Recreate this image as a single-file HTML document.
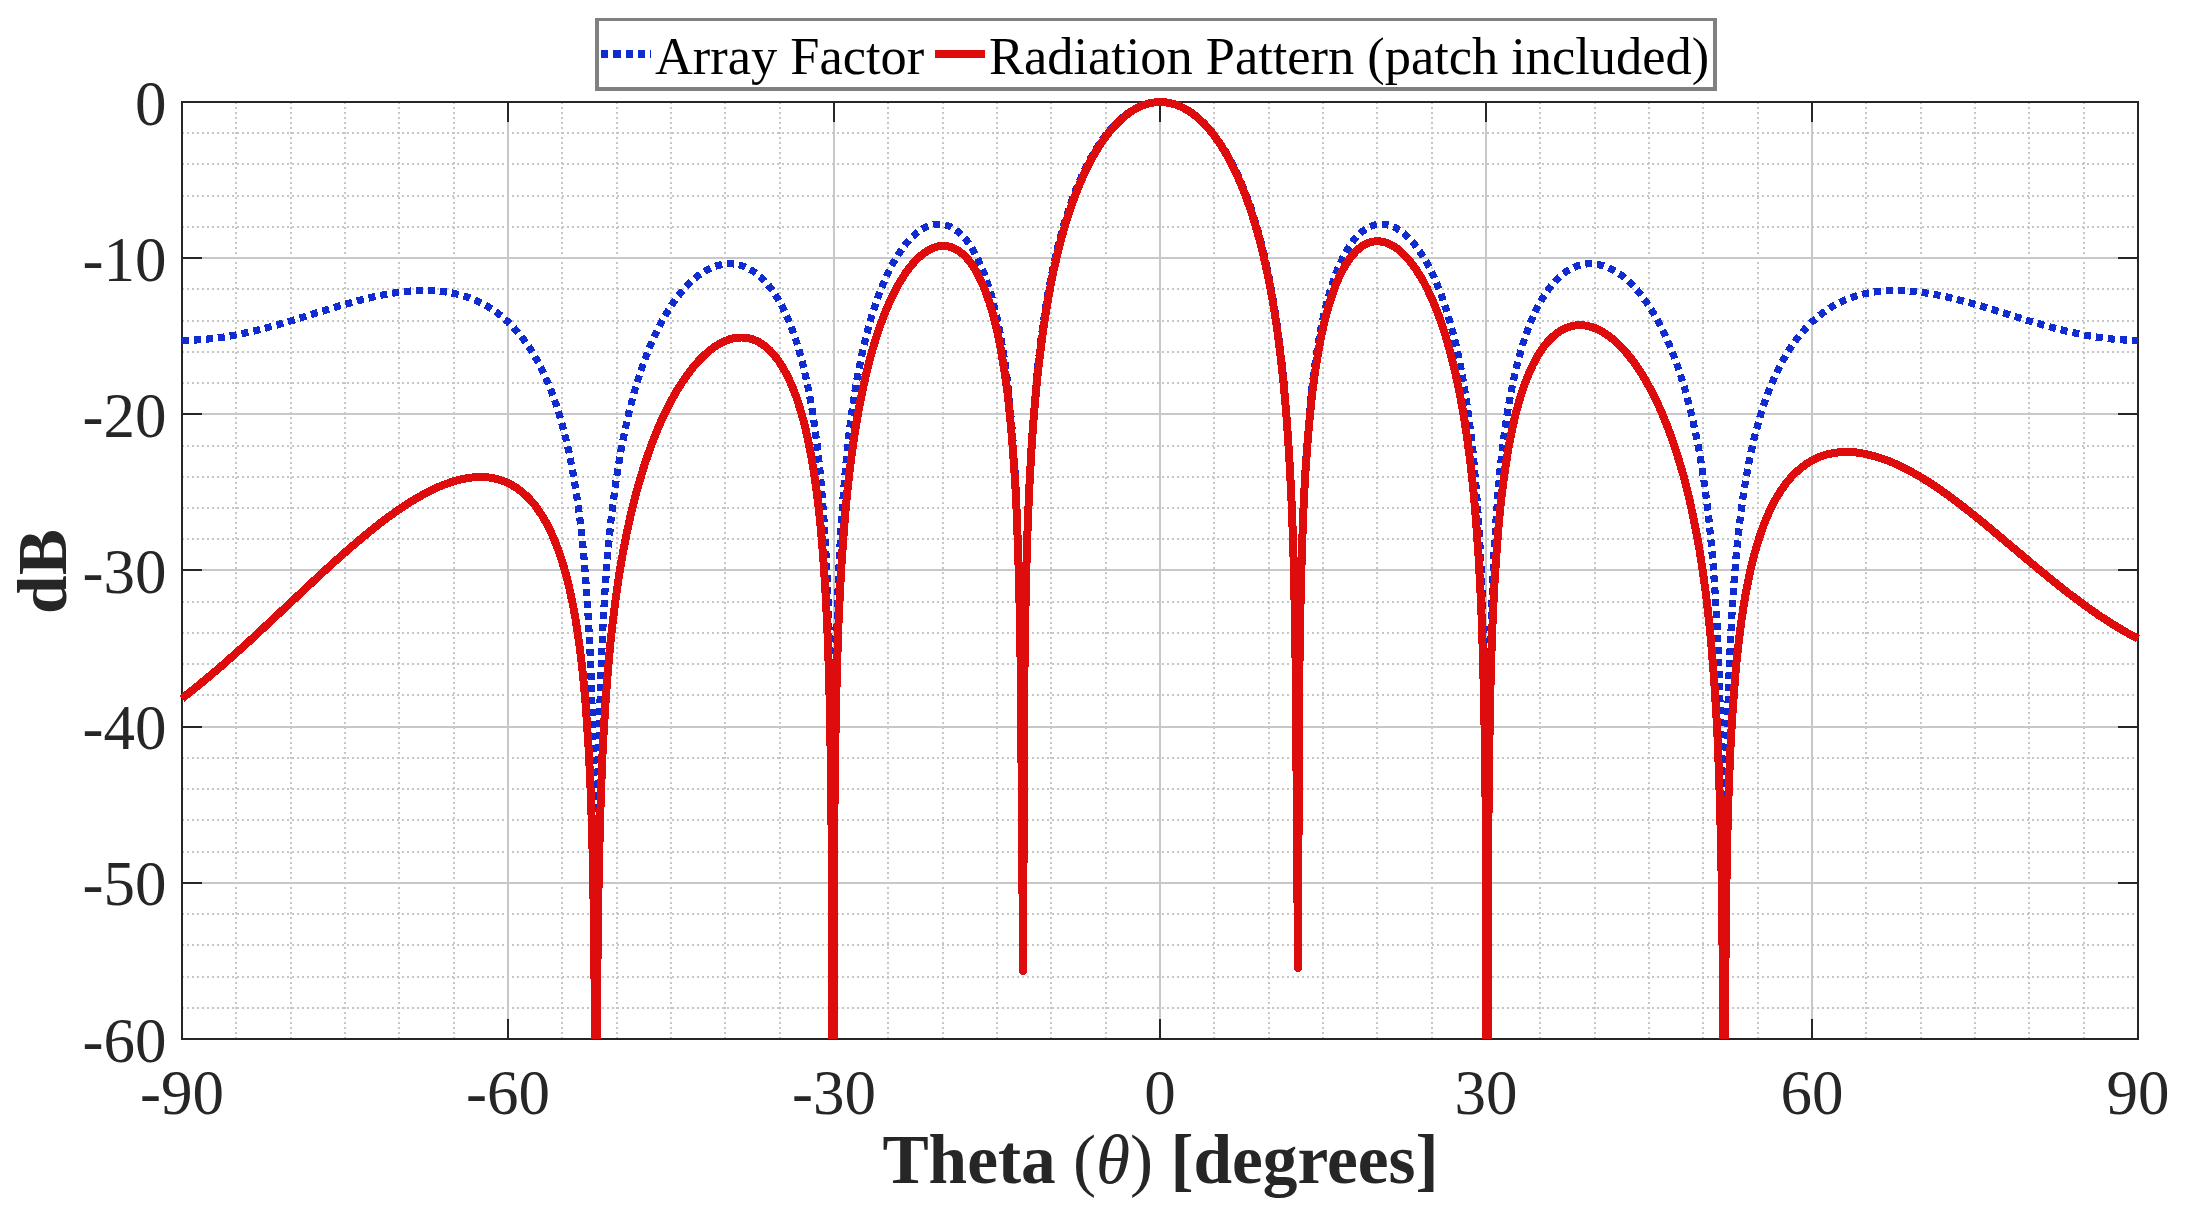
<!DOCTYPE html>
<html lang="en"><head><meta charset="utf-8"><title>Array Factor and Radiation Pattern</title>
<style>html,body{margin:0;padding:0;background:#fff;}body{width:2187px;height:1230px;overflow:hidden;}svg{display:block;}</style>
</head><body>
<svg width="2187" height="1230" viewBox="0 0 2187 1230">
<rect width="2187" height="1230" fill="#fff"/>
<g stroke="#c6c6c6" stroke-width="2" stroke-dasharray="2 3" fill="none">
<path d="M236,102.0 V1039.0"/>
<path d="M291,102.0 V1039.0"/>
<path d="M345,102.0 V1039.0"/>
<path d="M399,102.0 V1039.0"/>
<path d="M454,102.0 V1039.0"/>
<path d="M562,102.0 V1039.0"/>
<path d="M617,102.0 V1039.0"/>
<path d="M671,102.0 V1039.0"/>
<path d="M725,102.0 V1039.0"/>
<path d="M780,102.0 V1039.0"/>
<path d="M888,102.0 V1039.0"/>
<path d="M943,102.0 V1039.0"/>
<path d="M997,102.0 V1039.0"/>
<path d="M1051,102.0 V1039.0"/>
<path d="M1106,102.0 V1039.0"/>
<path d="M1214,102.0 V1039.0"/>
<path d="M1269,102.0 V1039.0"/>
<path d="M1323,102.0 V1039.0"/>
<path d="M1377,102.0 V1039.0"/>
<path d="M1432,102.0 V1039.0"/>
<path d="M1540,102.0 V1039.0"/>
<path d="M1595,102.0 V1039.0"/>
<path d="M1649,102.0 V1039.0"/>
<path d="M1703,102.0 V1039.0"/>
<path d="M1758,102.0 V1039.0"/>
<path d="M1866,102.0 V1039.0"/>
<path d="M1921,102.0 V1039.0"/>
<path d="M1975,102.0 V1039.0"/>
<path d="M2029,102.0 V1039.0"/>
<path d="M2084,102.0 V1039.0"/>
<path d="M182.0,1008 H2138.0"/>
<path d="M182.0,977 H2138.0"/>
<path d="M182.0,945 H2138.0"/>
<path d="M182.0,914 H2138.0"/>
<path d="M182.0,852 H2138.0"/>
<path d="M182.0,820 H2138.0"/>
<path d="M182.0,789 H2138.0"/>
<path d="M182.0,758 H2138.0"/>
<path d="M182.0,695 H2138.0"/>
<path d="M182.0,664 H2138.0"/>
<path d="M182.0,633 H2138.0"/>
<path d="M182.0,602 H2138.0"/>
<path d="M182.0,539 H2138.0"/>
<path d="M182.0,508 H2138.0"/>
<path d="M182.0,477 H2138.0"/>
<path d="M182.0,446 H2138.0"/>
<path d="M182.0,383 H2138.0"/>
<path d="M182.0,352 H2138.0"/>
<path d="M182.0,321 H2138.0"/>
<path d="M182.0,289 H2138.0"/>
<path d="M182.0,227 H2138.0"/>
<path d="M182.0,196 H2138.0"/>
<path d="M182.0,164 H2138.0"/>
<path d="M182.0,133 H2138.0"/>
</g>
<g stroke="#c8c8c8" stroke-width="2" fill="none">
<path d="M508,102.0 V1039.0"/>
<path d="M834,102.0 V1039.0"/>
<path d="M1160,102.0 V1039.0"/>
<path d="M1486,102.0 V1039.0"/>
<path d="M1812,102.0 V1039.0"/>
<path d="M182.0,883 H2138.0"/>
<path d="M182.0,727 H2138.0"/>
<path d="M182.0,570 H2138.0"/>
<path d="M182.0,414 H2138.0"/>
<path d="M182.0,258 H2138.0"/>
</g>
<g stroke="#262626" stroke-width="2" fill="none">
<path d="M508,1039.0 v-20 M508,102.0 v20"/>
<path d="M834,1039.0 v-20 M834,102.0 v20"/>
<path d="M1160,1039.0 v-20 M1160,102.0 v20"/>
<path d="M1486,1039.0 v-20 M1486,102.0 v20"/>
<path d="M1812,1039.0 v-20 M1812,102.0 v20"/>
<path d="M182.0,883 h20 M2138.0,883 h-20"/>
<path d="M182.0,727 h20 M2138.0,727 h-20"/>
<path d="M182.0,570 h20 M2138.0,570 h-20"/>
<path d="M182.0,414 h20 M2138.0,414 h-20"/>
<path d="M182.0,258 h20 M2138.0,258 h-20"/>
<rect x="182.0" y="102.0" width="1956.0" height="937.0"/>
</g>
<path d="M182.0,340.3 L188.5,340.2 L195.0,340.0 L201.6,339.6 L209.2,338.9 L215.7,338.1 L223.3,337.1 L230.9,335.9 L238.5,334.4 L246.1,332.8 L254.8,330.8 L263.5,328.6 L273.3,326.0 L291.8,320.6 L327.6,309.5 L342.8,304.9 L358.0,300.7 L372.2,297.2 L380.9,295.3 L388.5,293.9 L396.1,292.6 L403.7,291.7 L411.3,291.0 L417.8,290.6 L424.3,290.4 L430.8,290.6 L439.5,291.2 L447.1,292.1 L454.8,293.6 L462.4,295.5 L470.0,298.0 L476.5,300.7 L483.0,303.9 L489.5,307.6 L496.0,312.0 L501.5,316.2 L508.0,321.9 L513.4,327.3 L518.9,333.5 L524.3,340.4 L529.7,348.2 L534.1,355.1 L538.4,362.8 L542.8,371.4 L547.1,380.9 L551.5,391.6 L555.8,403.7 L559.1,413.8 L562.3,425.1 L565.6,437.6 L568.9,451.8 L571.0,462.4 L574.3,480.3 L576.5,493.9 L578.6,509.2 L580.8,526.7 L583.0,547.1 L584.1,558.7 L586.2,585.4 L587.3,601.2 L589.5,640.0 L590.6,664.8 L591.7,695.2 L592.8,734.7 L593.8,791.0 L594.9,889.5 L595.4,1039.0 M596.6,1039.0 L597.1,871.1 L598.2,781.1 L599.3,727.3 L600.4,688.8 L601.5,658.7 L602.5,634.1 L604.7,595.0 L606.9,564.6 L609.1,539.6 L611.2,518.5 L614.5,491.8 L616.7,476.5 L619.9,456.4 L622.1,444.4 L624.3,433.5 L628.6,413.9 L633.0,396.8 L635.1,389.1 L638.4,378.3 L640.6,371.6 L643.8,362.2 L647.1,353.6 L650.4,345.5 L653.6,338.1 L656.9,331.1 L660.1,324.6 L664.5,316.7 L667.7,311.2 L672.1,304.4 L675.3,299.8 L679.7,294.1 L683.0,290.1 L687.3,285.4 L691.6,281.1 L696.0,277.4 L700.3,274.1 L704.7,271.2 L709.0,268.9 L713.4,266.9 L717.7,265.5 L722.1,264.4 L726.4,263.9 L729.7,263.7 L734.0,264.0 L737.3,264.5 L740.5,265.3 L743.8,266.4 L748.2,268.3 L751.4,270.1 L754.7,272.3 L757.9,274.7 L761.2,277.6 L764.5,280.8 L767.7,284.5 L771.0,288.6 L774.2,293.2 L777.5,298.3 L780.8,304.0 L782.9,308.2 L786.2,315.0 L788.4,319.9 L792.7,330.9 L797.1,343.8 L799.2,351.0 L801.4,358.8 L803.6,367.3 L805.7,376.6 L809.0,392.3 L812.3,410.6 L815.5,432.5 L817.7,449.7 L819.9,469.8 L822.0,493.7 L824.2,523.2 L826.4,561.5 L827.5,585.9 L828.6,615.8 L829.7,654.5 L830.7,709.2 L831.8,802.8 L832.1,1039.0 M833.7,1039.0 L834.0,802.7 L835.1,708.3 L836.2,653.0 L837.3,613.8 L838.3,583.3 L839.4,558.3 L840.5,537.2 L842.7,502.8 L843.8,488.3 L846.0,463.3 L847.0,452.3 L849.2,432.7 L851.4,415.6 L853.6,400.4 L855.7,386.8 L857.9,374.4 L860.1,363.2 L863.3,348.0 L866.6,334.5 L869.9,322.4 L873.1,311.5 L876.4,301.6 L879.6,292.6 L882.9,284.4 L886.2,276.9 L890.5,267.9 L893.8,261.8 L898.1,254.6 L902.5,248.2 L906.8,242.7 L911.2,237.9 L915.5,233.9 L919.8,230.6 L924.2,227.9 L927.5,226.4 L929.6,225.6 L931.8,225.0 L934.0,224.5 L936.1,224.2 L938.3,224.1 L940.5,224.2 L942.7,224.4 L944.8,224.8 L947.0,225.4 L949.2,226.3 L951.4,227.3 L953.5,228.5 L955.7,229.9 L959.0,232.5 L961.1,234.5 L963.3,236.7 L966.6,240.5 L968.7,243.4 L970.9,246.6 L974.2,252.0 L977.4,258.1 L980.7,265.1 L984.0,273.0 L986.1,278.9 L989.4,288.8 L991.6,296.1 L994.8,308.6 L997.0,317.9 L999.2,328.3 L1001.3,340.0 L1004.6,360.3 L1006.8,376.3 L1007.9,385.2 L1010.0,405.5 L1012.2,429.9 L1014.4,460.5 L1015.5,479.1 L1016.6,500.9 L1017.6,527.3 L1018.7,560.3 L1019.8,604.6 L1020.9,671.6 L1023.1,970.8 L1024.2,679.0 L1025.3,607.4 L1026.3,560.4 L1027.4,525.4 L1028.5,497.4 L1029.6,474.1 L1030.7,454.1 L1031.8,436.5 L1033.9,406.8 L1036.1,382.3 L1038.3,361.3 L1041.6,334.6 L1044.8,312.2 L1047.0,298.9 L1049.2,286.8 L1051.3,275.7 L1053.5,265.4 L1055.7,255.7 L1058.9,242.5 L1061.1,234.4 L1064.4,223.0 L1066.5,216.0 L1069.8,206.1 L1073.1,197.0 L1076.3,188.6 L1079.6,180.8 L1082.8,173.5 L1086.1,166.8 L1090.5,158.5 L1093.7,152.8 L1098.1,145.8 L1101.3,140.9 L1105.7,135.0 L1110.0,129.7 L1114.4,124.9 L1118.7,120.6 L1123.1,116.8 L1127.4,113.4 L1131.7,110.5 L1136.1,108.1 L1141.5,105.6 L1145.9,104.1 L1150.2,103.0 L1154.6,102.3 L1160.0,102.0 L1165.4,102.3 L1169.8,103.0 L1174.1,104.1 L1178.5,105.6 L1183.9,108.1 L1188.3,110.5 L1192.6,113.4 L1196.9,116.7 L1201.3,120.5 L1205.6,124.8 L1210.0,129.6 L1214.3,135.0 L1218.7,140.9 L1221.9,145.7 L1226.3,152.7 L1229.5,158.4 L1233.9,166.7 L1237.2,173.4 L1240.4,180.7 L1243.7,188.5 L1246.9,196.9 L1250.2,205.9 L1253.5,215.7 L1255.6,222.8 L1258.9,234.1 L1261.1,242.2 L1264.3,255.4 L1266.5,265.0 L1268.7,275.3 L1270.8,286.4 L1273.0,298.4 L1275.2,311.6 L1278.4,333.9 L1281.7,360.4 L1283.9,381.3 L1286.1,405.6 L1288.2,435.0 L1289.3,452.3 L1290.4,472.1 L1291.5,495.0 L1292.6,522.4 L1293.7,556.6 L1294.7,602.0 L1295.8,670.1 L1298.0,967.9 L1299.1,680.7 L1300.2,610.1 L1301.3,564.3 L1302.4,530.3 L1303.4,503.5 L1304.5,481.2 L1305.6,462.3 L1307.8,431.4 L1310.0,406.7 L1312.1,386.2 L1313.2,377.2 L1315.4,361.1 L1318.7,340.7 L1320.8,329.0 L1323.0,318.5 L1325.2,309.1 L1328.4,296.5 L1330.6,289.1 L1333.9,279.2 L1336.0,273.3 L1339.3,265.3 L1342.6,258.3 L1345.8,252.1 L1349.1,246.8 L1351.3,243.5 L1353.4,240.6 L1356.7,236.8 L1358.9,234.5 L1361.0,232.5 L1364.3,230.0 L1366.5,228.5 L1368.6,227.3 L1370.8,226.3 L1373.0,225.5 L1375.2,224.8 L1377.3,224.4 L1379.5,224.2 L1381.7,224.1 L1383.9,224.2 L1386.0,224.5 L1388.2,225.0 L1390.4,225.6 L1392.5,226.4 L1395.8,227.9 L1400.2,230.6 L1404.5,233.9 L1408.8,237.9 L1413.2,242.7 L1417.5,248.2 L1421.9,254.6 L1426.2,261.8 L1429.5,267.9 L1433.8,276.9 L1437.1,284.4 L1440.4,292.6 L1443.6,301.6 L1446.9,311.5 L1450.1,322.4 L1453.4,334.5 L1456.7,348.0 L1459.9,363.2 L1462.1,374.4 L1464.3,386.8 L1466.4,400.4 L1468.6,415.6 L1470.8,432.7 L1473.0,452.3 L1474.0,463.3 L1476.2,488.3 L1477.3,502.8 L1479.5,537.2 L1480.6,558.3 L1481.7,583.3 L1482.7,613.8 L1483.8,653.0 L1484.9,708.3 L1486.0,802.7 L1486.3,1039.0 M1487.9,1039.0 L1488.2,802.8 L1489.3,709.2 L1490.3,654.5 L1491.4,615.8 L1492.5,585.9 L1493.6,561.5 L1495.8,523.2 L1498.0,493.7 L1500.1,469.8 L1502.3,449.7 L1504.5,432.5 L1507.7,410.6 L1511.0,392.3 L1514.3,376.6 L1516.4,367.3 L1518.6,358.8 L1520.8,351.0 L1522.9,343.8 L1527.3,330.9 L1531.6,319.9 L1533.8,315.0 L1537.1,308.2 L1539.2,304.0 L1542.5,298.3 L1545.8,293.2 L1549.0,288.6 L1552.3,284.5 L1555.5,280.8 L1558.8,277.6 L1562.1,274.7 L1565.3,272.3 L1568.6,270.1 L1571.8,268.3 L1576.2,266.4 L1579.5,265.3 L1582.7,264.5 L1586.0,264.0 L1590.3,263.7 L1593.6,263.9 L1597.9,264.4 L1602.3,265.5 L1606.6,266.9 L1611.0,268.9 L1615.3,271.2 L1619.7,274.1 L1624.0,277.4 L1628.4,281.1 L1632.7,285.4 L1637.0,290.1 L1640.3,294.1 L1644.7,299.8 L1647.9,304.4 L1652.3,311.2 L1655.5,316.7 L1659.9,324.6 L1663.1,331.1 L1666.4,338.1 L1669.6,345.5 L1672.9,353.6 L1676.2,362.2 L1679.4,371.6 L1681.6,378.3 L1684.9,389.1 L1687.0,396.8 L1691.4,413.9 L1695.7,433.5 L1697.9,444.4 L1700.1,456.4 L1703.3,476.5 L1705.5,491.8 L1708.8,518.5 L1710.9,539.6 L1713.1,564.6 L1715.3,595.0 L1717.5,634.1 L1718.5,658.7 L1719.6,688.8 L1720.7,727.3 L1721.8,781.1 L1722.9,871.1 L1723.4,1039.0 M1724.6,1039.0 L1725.1,889.5 L1726.2,791.0 L1727.2,734.7 L1728.3,695.2 L1729.4,664.8 L1730.5,640.0 L1732.7,601.2 L1733.8,585.4 L1735.9,558.7 L1737.0,547.1 L1739.2,526.7 L1741.4,509.2 L1743.5,493.9 L1745.7,480.3 L1749.0,462.4 L1751.1,451.8 L1754.4,437.6 L1757.7,425.1 L1760.9,413.8 L1764.2,403.7 L1768.5,391.6 L1772.9,380.9 L1777.2,371.4 L1781.6,362.8 L1785.9,355.1 L1790.3,348.2 L1795.7,340.4 L1801.1,333.5 L1806.6,327.3 L1812.0,321.9 L1818.5,316.2 L1824.0,312.0 L1830.5,307.6 L1837.0,303.9 L1843.5,300.7 L1850.0,298.0 L1857.6,295.5 L1865.2,293.6 L1872.9,292.1 L1880.5,291.2 L1889.2,290.6 L1895.7,290.4 L1902.2,290.6 L1908.7,291.0 L1916.3,291.7 L1923.9,292.6 L1931.5,293.9 L1939.1,295.3 L1947.8,297.2 L1962.0,300.7 L1977.2,304.9 L1992.4,309.5 L2028.2,320.6 L2046.7,326.0 L2056.5,328.6 L2065.2,330.8 L2073.9,332.8 L2081.5,334.4 L2089.1,335.9 L2096.7,337.1 L2104.3,338.1 L2110.8,338.9 L2118.4,339.6 L2125.0,340.0 L2131.5,340.2 L2138.0,340.3" fill="none" stroke="#102CD0" stroke-width="7.2" stroke-dasharray="7 5" stroke-linejoin="round" shape-rendering="crispEdges"/>
<path d="M182.0,698.5 L195.0,688.2 L208.1,677.4 L222.2,665.4 L236.3,652.9 L248.3,642.1 L262.4,629.0 L305.9,588.2 L322.2,573.0 L338.5,558.2 L353.7,544.9 L370.0,531.3 L377.6,525.2 L385.2,519.4 L392.8,513.8 L399.3,509.3 L406.9,504.2 L413.5,500.1 L422.2,495.1 L429.8,491.0 L438.5,486.9 L446.1,483.9 L453.7,481.3 L460.2,479.5 L467.8,478.0 L474.3,477.2 L480.8,477.0 L487.4,477.3 L490.6,477.7 L493.9,478.3 L497.1,479.1 L500.4,480.0 L505.8,482.1 L511.3,484.7 L516.7,488.0 L522.1,492.1 L525.4,495.0 L527.6,497.1 L531.9,501.7 L535.2,505.7 L537.3,508.6 L541.7,515.0 L546.0,522.3 L550.4,530.8 L554.7,540.7 L558.0,549.1 L561.2,558.5 L564.5,569.2 L567.8,581.5 L569.9,590.7 L573.2,606.3 L575.4,618.3 L577.5,631.8 L579.7,647.3 L581.9,665.2 L583.0,675.4 L585.2,698.7 L586.2,712.4 L588.4,745.3 L589.5,765.7 L590.6,790.0 L591.7,820.0 L592.8,859.1 L593.8,914.9 L594.9,1012.9 L595.0,1039.0 M597.0,1039.0 L597.1,993.6 L598.2,903.2 L599.3,849.0 L600.4,810.0 L601.5,779.6 L602.5,754.5 L603.6,733.1 L605.8,698.1 L608.0,669.8 L610.1,646.1 L612.3,625.6 L615.6,599.3 L618.8,576.9 L622.1,557.3 L626.4,534.5 L630.8,514.6 L633.0,505.6 L636.2,492.9 L641.7,473.9 L644.9,463.6 L648.2,454.0 L651.4,444.9 L654.7,436.5 L658.0,428.5 L661.2,421.0 L664.5,414.0 L667.7,407.3 L671.0,401.1 L675.3,393.3 L678.6,387.8 L683.0,381.0 L687.3,374.8 L691.6,369.1 L694.9,365.1 L699.3,360.2 L703.6,355.9 L707.9,351.9 L712.3,348.5 L716.6,345.5 L721.0,343.0 L725.3,340.9 L729.7,339.3 L734.0,338.2 L738.4,337.6 L741.6,337.5 L744.9,337.7 L748.2,338.1 L751.4,339.0 L754.7,340.1 L757.9,341.6 L761.2,343.5 L764.5,345.8 L766.6,347.5 L769.9,350.5 L773.1,354.0 L776.4,358.0 L778.6,360.9 L781.8,365.9 L784.0,369.6 L788.4,377.9 L790.5,382.6 L792.7,387.7 L794.9,393.3 L797.1,399.3 L799.2,405.9 L801.4,413.1 L804.7,425.2 L807.9,439.3 L811.2,455.8 L814.4,475.5 L816.6,491.0 L818.8,509.0 L821.0,530.2 L823.1,556.1 L825.3,588.9 L826.4,609.1 L827.5,633.2 L828.6,662.9 L829.7,701.3 L830.7,755.7 L831.8,849.0 L832.1,1039.0 M833.8,1039.0 L834.0,848.3 L835.1,753.7 L836.2,698.1 L837.3,658.6 L838.3,627.8 L839.4,602.6 L841.6,562.6 L843.8,531.5 L844.9,518.1 L847.0,494.7 L849.2,474.5 L851.4,456.9 L853.6,441.1 L855.7,427.0 L857.9,414.1 L861.2,396.8 L863.3,386.4 L866.6,372.1 L869.9,359.2 L873.1,347.5 L876.4,336.9 L879.6,327.1 L882.9,318.2 L886.2,310.0 L889.4,302.4 L893.8,293.2 L897.0,287.0 L901.4,279.5 L905.7,272.9 L910.1,267.0 L914.4,261.9 L918.8,257.5 L923.1,253.8 L927.5,250.8 L931.8,248.6 L934.0,247.7 L936.1,247.0 L938.3,246.4 L940.5,246.1 L943.8,245.9 L945.9,246.1 L948.1,246.4 L950.3,246.9 L952.4,247.6 L954.6,248.6 L956.8,249.7 L960.1,251.9 L962.2,253.6 L964.4,255.6 L967.7,259.1 L970.9,263.3 L974.2,268.1 L977.4,273.7 L980.7,280.1 L984.0,287.6 L986.1,293.1 L989.4,302.5 L991.6,309.5 L994.8,321.5 L997.0,330.6 L999.2,340.7 L1001.3,352.0 L1004.6,371.8 L1006.8,387.5 L1007.9,396.3 L1010.0,416.3 L1012.2,440.4 L1014.4,470.7 L1015.5,489.2 L1016.6,510.9 L1017.6,537.1 L1018.7,570.0 L1019.8,614.2 L1020.9,681.0 L1023.1,970.8 L1024.2,688.1 L1025.3,616.3 L1026.3,569.2 L1027.4,534.0 L1028.5,505.9 L1029.6,482.4 L1030.7,462.3 L1031.8,444.6 L1033.9,414.7 L1036.1,389.9 L1038.3,368.7 L1041.6,341.7 L1044.8,318.8 L1047.0,305.4 L1049.2,293.0 L1051.3,281.7 L1053.5,271.1 L1055.7,261.3 L1058.9,247.8 L1061.1,239.4 L1064.4,227.8 L1066.5,220.5 L1069.8,210.4 L1073.1,201.0 L1076.3,192.4 L1079.6,184.3 L1082.8,176.8 L1086.1,169.8 L1090.5,161.2 L1093.7,155.2 L1098.1,147.9 L1101.3,142.9 L1105.7,136.8 L1110.0,131.2 L1114.4,126.2 L1118.7,121.7 L1123.1,117.7 L1127.4,114.2 L1131.7,111.1 L1136.1,108.5 L1141.5,105.9 L1145.9,104.3 L1150.2,103.1 L1154.6,102.4 L1160.0,102.0 L1165.4,102.3 L1169.8,103.0 L1174.1,104.1 L1178.5,105.6 L1182.8,107.6 L1187.2,110.0 L1191.5,112.8 L1195.9,116.1 L1200.2,119.9 L1204.6,124.2 L1208.9,129.0 L1213.2,134.4 L1217.6,140.3 L1220.9,145.1 L1225.2,152.2 L1228.5,157.9 L1232.8,166.2 L1236.1,173.0 L1239.3,180.2 L1242.6,188.0 L1245.8,196.4 L1249.1,205.5 L1252.4,215.2 L1254.5,222.2 L1257.8,233.4 L1260.0,241.5 L1263.2,254.5 L1265.4,263.9 L1269.8,284.9 L1271.9,296.6 L1274.1,309.4 L1277.4,330.9 L1280.6,356.1 L1283.9,386.6 L1286.1,411.2 L1288.2,440.8 L1289.3,458.2 L1290.4,478.0 L1291.5,501.1 L1292.6,528.6 L1293.7,562.9 L1294.7,608.4 L1295.8,676.6 L1298.0,967.9 L1299.1,687.5 L1300.2,617.1 L1301.3,571.3 L1302.4,537.5 L1303.4,510.8 L1304.5,488.6 L1305.6,469.8 L1307.8,439.1 L1310.0,414.7 L1312.1,394.5 L1313.2,385.6 L1315.4,369.7 L1318.7,349.6 L1320.8,338.2 L1323.0,328.0 L1325.2,318.8 L1328.4,306.7 L1330.6,299.6 L1333.9,290.0 L1336.0,284.4 L1339.3,276.8 L1342.6,270.2 L1345.8,264.5 L1349.1,259.6 L1352.3,255.3 L1355.6,251.7 L1357.8,249.6 L1359.9,247.8 L1363.2,245.5 L1365.4,244.3 L1367.6,243.3 L1369.7,242.5 L1371.9,241.9 L1374.1,241.5 L1376.2,241.3 L1378.4,241.3 L1380.6,241.5 L1382.8,241.8 L1384.9,242.4 L1387.1,243.1 L1389.3,244.0 L1393.6,246.3 L1398.0,249.3 L1402.3,253.0 L1406.7,257.4 L1411.0,262.5 L1415.4,268.5 L1419.7,275.2 L1424.1,282.7 L1427.3,289.0 L1431.7,298.3 L1434.9,305.9 L1438.2,314.2 L1441.4,323.3 L1444.7,333.2 L1448.0,344.1 L1451.2,356.0 L1454.5,369.2 L1457.7,383.9 L1459.9,394.6 L1462.1,406.3 L1464.3,419.1 L1466.4,433.2 L1468.6,448.8 L1470.8,466.4 L1473.0,486.5 L1475.1,509.8 L1476.2,523.1 L1478.4,554.2 L1480.6,594.1 L1481.7,619.2 L1482.7,650.0 L1483.8,689.5 L1484.9,745.0 L1486.0,839.6 L1486.2,1039.0 M1487.9,1039.0 L1488.2,840.2 L1489.3,746.8 L1490.3,692.4 L1491.4,653.9 L1492.5,624.2 L1493.6,600.1 L1494.7,579.8 L1496.9,546.9 L1499.0,521.0 L1501.2,499.6 L1503.4,481.6 L1505.6,466.0 L1508.8,446.2 L1512.1,429.5 L1515.3,415.3 L1518.6,403.1 L1520.8,395.8 L1522.9,389.1 L1525.1,383.0 L1527.3,377.3 L1529.5,372.1 L1532.7,365.1 L1537.1,356.9 L1539.2,353.3 L1542.5,348.5 L1544.7,345.5 L1547.9,341.6 L1551.2,338.2 L1554.5,335.2 L1556.6,333.5 L1559.9,331.2 L1563.2,329.3 L1566.4,327.8 L1569.7,326.7 L1572.9,325.8 L1576.2,325.3 L1579.5,325.1 L1582.7,325.2 L1587.1,325.8 L1591.4,326.9 L1595.8,328.5 L1600.1,330.5 L1604.4,333.0 L1608.8,336.0 L1613.1,339.4 L1617.5,343.3 L1621.8,347.6 L1626.2,352.5 L1629.4,356.4 L1633.8,362.1 L1638.1,368.3 L1642.5,375.1 L1645.7,380.6 L1650.1,388.4 L1653.3,394.7 L1657.7,403.6 L1661.0,410.9 L1664.2,418.5 L1667.5,426.7 L1670.7,435.4 L1674.0,444.7 L1679.4,461.8 L1682.7,473.0 L1684.9,481.0 L1688.1,493.9 L1690.3,503.2 L1694.6,523.5 L1696.8,534.8 L1699.0,547.0 L1702.2,567.3 L1705.5,590.8 L1707.7,608.8 L1709.9,629.1 L1712.0,652.8 L1714.2,680.9 L1716.4,715.9 L1717.5,737.2 L1718.5,762.2 L1719.6,792.7 L1720.7,831.6 L1721.8,885.7 L1722.9,976.1 L1723.1,1039.0 M1724.9,1039.0 L1725.1,995.3 L1726.2,897.2 L1727.2,841.3 L1728.3,802.2 L1729.4,772.2 L1730.5,747.8 L1731.6,727.4 L1732.7,709.8 L1733.8,694.4 L1735.9,668.4 L1737.0,657.2 L1739.2,637.7 L1741.4,620.9 L1743.5,606.4 L1745.7,593.6 L1749.0,576.9 L1751.1,567.1 L1754.4,554.1 L1757.7,542.8 L1760.9,532.7 L1764.2,523.8 L1768.5,513.4 L1771.8,506.5 L1776.1,498.3 L1780.5,491.2 L1782.7,488.0 L1785.9,483.5 L1790.3,478.2 L1792.4,475.8 L1795.7,472.6 L1801.1,467.8 L1806.6,463.8 L1812.0,460.5 L1817.4,457.8 L1822.9,455.7 L1826.1,454.7 L1829.4,453.9 L1834.8,452.8 L1841.3,452.1 L1847.9,452.0 L1855.5,452.4 L1862.0,453.3 L1869.6,454.9 L1877.2,457.0 L1884.8,459.5 L1892.4,462.5 L1901.1,466.5 L1907.6,469.8 L1914.1,473.3 L1920.7,477.1 L1927.2,481.1 L1933.7,485.4 L1941.3,490.5 L1948.9,496.0 L1957.6,502.4 L1970.7,512.6 L1985.9,524.9 L2034.8,566.0 L2052.2,580.3 L2069.5,594.0 L2084.8,605.4 L2098.9,615.3 L2111.9,623.8 L2125.0,631.6 L2131.5,635.2 L2138.0,638.6" fill="none" stroke="#DE0C0C" stroke-width="8.0" stroke-linejoin="round" shape-rendering="crispEdges"/>
<g font-family="'Liberation Serif', serif" font-size="63" fill="#262626">
<text x="166.5" y="1061.5" text-anchor="end">-60</text>
<text x="166.5" y="905.3" text-anchor="end">-50</text>
<text x="166.5" y="749.2" text-anchor="end">-40</text>
<text x="166.5" y="593.0" text-anchor="end">-30</text>
<text x="166.5" y="436.8" text-anchor="end">-20</text>
<text x="166.5" y="280.7" text-anchor="end">-10</text>
<text x="166.5" y="124.5" text-anchor="end">0</text>
<text x="182.0" y="1113.5" text-anchor="middle">-90</text>
<text x="508.0" y="1113.5" text-anchor="middle">-60</text>
<text x="834.0" y="1113.5" text-anchor="middle">-30</text>
<text x="1160.0" y="1113.5" text-anchor="middle">0</text>
<text x="1486.0" y="1113.5" text-anchor="middle">30</text>
<text x="1812.0" y="1113.5" text-anchor="middle">60</text>
<text x="2138.0" y="1113.5" text-anchor="middle">90</text>
</g>
<g font-family="'Liberation Serif', serif" font-size="69.3" fill="#262626">
<text x="1160.5" y="1183" text-anchor="middle"><tspan font-weight="bold">Theta</tspan> (<tspan font-style="italic">θ</tspan>) <tspan font-weight="bold">[degrees]</tspan></text>
<text transform="translate(66,571.5) rotate(-90)" text-anchor="middle" font-weight="bold">dB</text>
</g>
<rect x="595" y="18" width="1122" height="73" fill="#808080"/>
<rect x="599" y="21" width="1114" height="66" fill="#fff"/>
<g fill="#102CD0"><rect x="601" y="50" width="7" height="8"/><rect x="613" y="50" width="8" height="8"/><rect x="626" y="50" width="7" height="8"/><rect x="638" y="50" width="7" height="8"/><rect x="650" y="50" width="1" height="8"/></g>
<rect x="935" y="50" width="50" height="8" fill="#DE0C0C"/>
<g font-family="'Liberation Serif', serif" font-size="52.4" fill="#000">
<text x="655" y="73.9">Array Factor</text>
<text x="989" y="73.9">Radiation Pattern (patch included)</text>
</g>
</svg>
</body></html>
